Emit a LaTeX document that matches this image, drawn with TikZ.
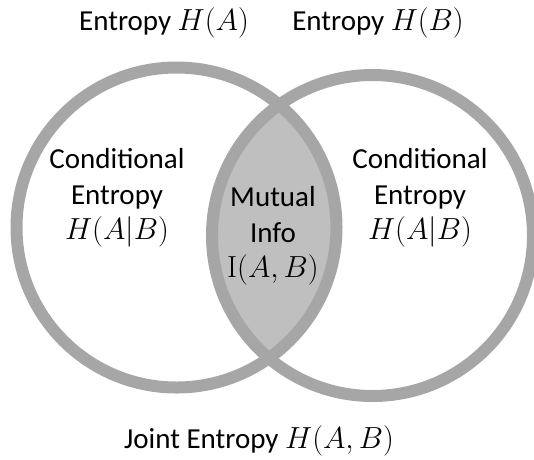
\RequirePackage{fix-cm}
\documentclass[tikz,border=0pt]{standalone}
\usepackage[no-math]{fontspec}
\setmainfont{Carlito}
\definecolor{ringgray}{HTML}{A6A6A6}
\definecolor{lensgray}{HTML}{BFBFBF}
\newcommand{\mth}[1]{{\fontsize{30.5}{35.5}\selectfont$#1$}}

\begin{document}
\begin{tikzpicture}[x=1pt,y=-1pt,
    ring/.style={draw=ringgray,line width=12pt}]
\useasboundingbox (0,0) rectangle (534,459);
% shaded overlap
\begin{scope}
    \clip (176.5,227.5) circle (160pt);
    \fill[lensgray] (372.5,235.5) circle (160.5pt);
\end{scope}
\draw[ring] (176.5,227.5) circle (160pt);
\draw[ring] (372.5,235.5) circle (160.5pt);
\begin{scope}[every node/.style={font=\fontsize{29}{35.5}\selectfont,
                                 align=center,inner sep=0pt}]
    \node[anchor=base] (HA) at (164,30) {Entropy \mth{H(A)}};
    \node[anchor=base] (HB) at (378,30) {Entropy \mth{H(B)}};
    \node (CL) at (117,198) {Conditional\\Entropy\\\mth{H(A|B)}};
    \node (MI) at (273,236) {Mutual\\Info\\\mth{\mathrm{I}(A,B)}};
    \node (CR) at (420,198) {Conditional\\Entropy\\\mth{H(A|B)}};
    \node[anchor=base] (J) at (259,448) {Joint Entropy \mth{H(A,B)}};
\end{scope}
\end{tikzpicture}
\end{document}
